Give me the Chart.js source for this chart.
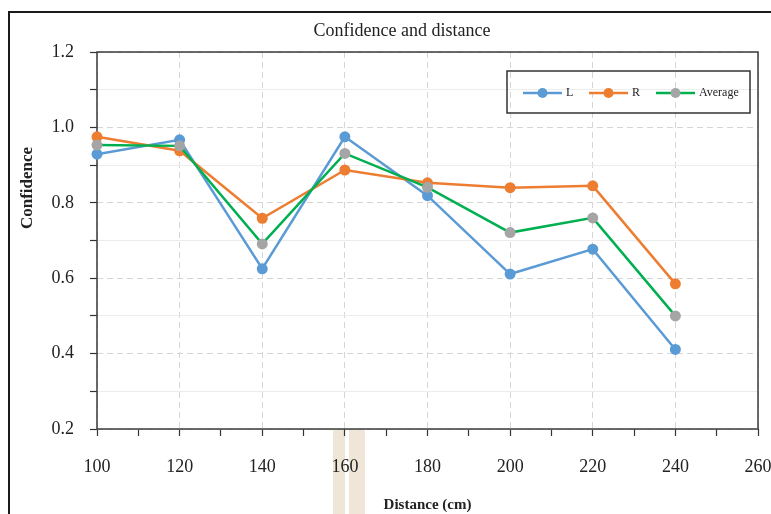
<!DOCTYPE html>
<html>
<head>
<meta charset="utf-8">
<script src="https://cdn.jsdelivr.net/npm/chart.js@4.4.1/dist/chart.umd.min.js"></script>
<style>
  html, body { margin: 0; padding: 0; background: #fff; }
</style>
</head>
<body>
<canvas id="confChart" width="771" height="514"></canvas>
<script>
// values
const distances = [100, 120, 140, 160, 180, 200, 220, 240];
const confL = [0.929, 0.967, 0.625, 0.975, 0.819, 0.611, 0.677, 0.411];
const confR = [0.975, 0.938, 0.759, 0.887, 0.853, 0.840, 0.845, 0.585];
const confAvg = [0.953, 0.951, 0.691, 0.931, 0.841, 0.721, 0.760, 0.500];
const seriesNames = ['L', 'R', 'Average'];
const chartTitle = 'Confidence and distance';
const xTitle = 'Distance (cm)';
const yTitle = 'Confidence';

const serif = "'Liberation Serif', 'Times New Roman', serif";

function toPoints(values) {
    return distances.map((d, i) => ({ x: d, y: values[i] }));
}

// frame, beige strip, plot border, titles and the boxed legend
const decorPlugin = {
    id: 'decor',
    beforeDraw(chart) {
        const c = chart.ctx;
        c.save();
        c.fillStyle = '#ffffff';
        c.fillRect(0, 0, chart.width, chart.height);
        c.fillStyle = '#efe6d7';
        c.fillRect(333, 430, 12, 90);
        c.fillRect(349, 430, 16, 90);
        c.strokeStyle = '#1a1a1a';
        c.lineWidth = 2;
        c.strokeRect(9, 12, 900, 900);
        c.restore();
    },
    beforeDatasetsDraw(chart) {
        const a = chart.chartArea;
        const c = chart.ctx;
        c.save();
        c.strokeStyle = '#3a3a3a';
        c.lineWidth = 1.5;
        c.strokeRect(a.left, a.top, a.right - a.left, a.bottom - a.top);
        c.restore();
    },
    afterDraw(chart) {
        const a = chart.chartArea;
        const c = chart.ctx;
        c.save();
        c.fillStyle = '#222';
        c.textAlign = 'center';
        c.textBaseline = 'middle';
        c.font = '18px ' + serif;
        c.fillText(chartTitle, 402, 31);
        c.font = 'bold 15px ' + serif;
        c.fillText(xTitle, (a.left + a.right) / 2, 505);
        c.translate(28, 188);
        c.rotate(-Math.PI / 2);
        c.font = 'bold 17px ' + serif;
        c.fillText(yTitle, 0, 0);
        c.restore();

        // legend box
        c.save();
        c.strokeStyle = '#333';
        c.lineWidth = 1.5;
        c.strokeRect(507, 71, 243, 42);
        const starts = [523, 589, 656];
        chart.data.datasets.forEach((ds, i) => {
            const x0 = starts[i];
            const y = 93;
            c.strokeStyle = ds.borderColor;
            c.lineWidth = 2.5;
            c.beginPath();
            c.moveTo(x0, y);
            c.lineTo(x0 + 39, y);
            c.stroke();
            c.fillStyle = ds.pointBackgroundColor;
            c.beginPath();
            c.arc(x0 + 19.5, y, 5, 0, Math.PI * 2);
            c.fill();
            c.fillStyle = '#222';
            c.font = '12px ' + serif;
            c.textAlign = 'left';
            c.textBaseline = 'middle';
            c.fillText(ds.label, x0 + 43, y);
        });
        c.restore();
    }
};

const ctx = document.getElementById('confChart').getContext('2d');

new Chart(ctx, {
    type: 'line',
    data: {
        datasets: [{
            label: seriesNames[0],
            data: toPoints(confL),
            borderColor: '#5b9bd5',
            backgroundColor: '#5b9bd5',
            pointBackgroundColor: '#5b9bd5',
            pointBorderColor: '#5b9bd5',
            order: 2
        }, {
            label: seriesNames[1],
            data: toPoints(confR),
            borderColor: '#ed7d31',
            backgroundColor: '#ed7d31',
            pointBackgroundColor: '#ed7d31',
            pointBorderColor: '#ed7d31',
            order: 1
        }, {
            label: seriesNames[2],
            data: toPoints(confAvg),
            borderColor: '#00b050',
            backgroundColor: '#a5a5a5',
            pointBackgroundColor: '#a5a5a5',
            pointBorderColor: '#a5a5a5',
            order: 0
        }]
    },
    options: {
        responsive: false,
        animation: false,
        layout: { padding: { left: 0, right: 13, top: 52, bottom: 0 } },
        elements: {
            line: { borderWidth: 2.5, tension: 0 },
            point: { radius: 5.5, borderWidth: 0, hoverRadius: 5.5 }
        },
        datasets: { line: { clip: false } },
        plugins: {
            legend: { display: false },
            title: { display: false },
            tooltip: { enabled: false }
        },
        scales: {
            x: {
                type: 'linear',
                position: 'bottom',
                min: 100,
                max: 260,
                afterFit(s) { s.height = 85; s.paddingLeft = 0; s.paddingRight = 0; },
                ticks: {
                    stepSize: 10,
                    autoSkip: false,
                    maxRotation: 0,
                    padding: 20,
                    color: '#222',
                    font: { family: serif, size: 18 },
                    callback: v => (v % 20 === 0 ? String(v) : '')
                },
                grid: {
                    color: c => (c.tick && c.tick.value % 20 === 0 ? '#d6d6d6' : 'rgba(0,0,0,0)'),
                    lineWidth: 1,
                    tickColor: '#333',
                    tickLength: 7,
                    tickWidth: 1.2
                },
                border: { display: false, dash: [6, 4] }
            },
            y: {
                min: 0.2,
                max: 1.2,
                afterFit(s) { s.width = 97; s.paddingTop = 0; s.paddingBottom = 0; },
                ticks: {
                    stepSize: 0.1,
                    autoSkip: false,
                    padding: 16,
                    color: '#222',
                    font: { family: serif, size: 18 },
                    callback: v => (Math.round(v * 10) % 2 === 0 ? v.toFixed(1) : '')
                },
                grid: {
                    color: c => {
                        if (!c.tick) return '#d6d6d6';
                        return Math.round(c.tick.value * 10) % 2 === 0 ? '#d6d6d6' : '#ececec';
                    },
                    lineWidth: 1,
                    tickColor: '#333',
                    tickLength: 7,
                    tickWidth: 1.2
                },
                border: {
                    display: false,
                    dash: c => (c.tick && Math.round(c.tick.value * 10) % 2 === 1 ? [] : [6, 4])
                }
            }
        }
    },
    plugins: [decorPlugin]
});
</script>
</body>
</html>
